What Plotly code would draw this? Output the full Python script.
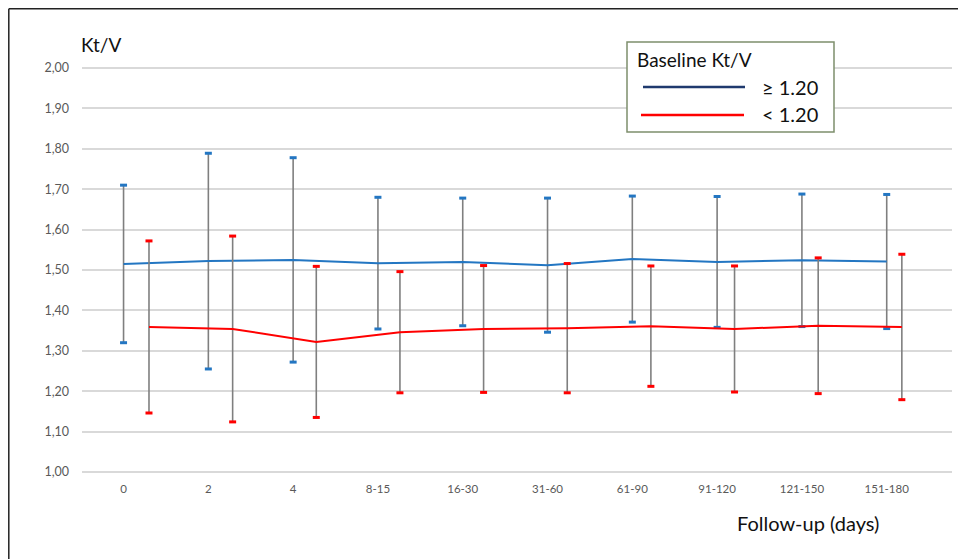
import plotly.graph_objects as go

categories = ["0", "2", "4", "8-15", "16-30", "31-60", "61-90", "91-120", "121-150", "151-180"]
high_mean = [1.515, 1.522, 1.525, 1.517, 1.520, 1.512, 1.527, 1.520, 1.524, 1.521]
high_sd = [0.195, 0.267, 0.253, 0.163, 0.158, 0.166, 0.156, 0.162, 0.164, 0.166]
low_mean = [1.359, 1.354, 1.322, 1.346, 1.354, 1.356, 1.361, 1.354, 1.362, 1.359]
low_sd = [0.213, 0.230, 0.187, 0.150, 0.157, 0.160, 0.149, 0.156, 0.168, 0.180]
y_tick_values = [1.0, 1.1, 1.2, 1.3, 1.4, 1.5, 1.6, 1.7, 1.8, 1.9, 2.0]
y_tick_labels = ["1,00", "1,10", "1,20", "1,30", "1,40", "1,50", "1,60", "1,70", "1,80", "1,90", "2,00"]
legend_title = "Baseline Kt/V"
legend_labels = ["≥ 1.20", "< 1.20"]

# page body has an 8px margin: figure is drawn offset by (8, 8)
OFF = 8
W, H = 966 - OFF, 559 - OFF
PL, PR, PT, PB = 82, 952, 66, 474   # plot area in page pixels
ML, MT = PL - OFF, PT - OFF
MR, MB = W - (PR - OFF), H - (PB - OFF)
PW, PH = PR - PL, PB - PT

def px(x):
    return (x - PL) / PW

def py(y):
    return (PB - y) / PH

n = len(categories)
x_high = list(range(n))
x_low = [i + 0.30 - 0.0135 * i for i in range(n)]

BLUE = "#2376C2"
RED = "#FF0000"
GRAY = "#7F7F7F"
FONT = "Lato, 'Open Sans', sans-serif"

fig = go.Figure()

for xs, m, sd, col in [(x_high, high_mean, high_sd, BLUE), (x_low, low_mean, low_sd, RED)]:
    fig.add_trace(go.Scatter(
        x=xs, y=m, mode="markers", marker=dict(size=1, opacity=0),
        error_y=dict(type="data", array=sd, visible=True, color=GRAY, thickness=1.6, width=0),
        showlegend=False, hoverinfo="skip"))
    caps_y = [a + b for a, b in zip(m, sd)] + [a - b for a, b in zip(m, sd)]
    fig.add_trace(go.Scatter(
        x=xs + xs, y=caps_y, mode="markers",
        marker=dict(symbol="line-ew-open", size=5, color=col, line=dict(color=col, width=3)),
        showlegend=False, hoverinfo="skip"))
    fig.add_trace(go.Scatter(
        x=xs, y=m, mode="lines", line=dict(color=col, width=2),
        showlegend=False))

shapes = [
    # outer frame (top and left only)
    dict(type="line", xref="paper", yref="paper", x0=px(OFF + 0.8), x1=px(966), y0=py(OFF + 0.8), y1=py(OFF + 0.8),
         line=dict(color="#222222", width=1.5)),
    dict(type="line", xref="paper", yref="paper", x0=px(OFF + 0.8), x1=px(OFF + 0.8), y0=py(OFF + 0.8), y1=py(559),
         line=dict(color="#222222", width=1.5)),
    # legend box
    dict(type="rect", xref="paper", yref="paper", x0=px(627), x1=px(834), y0=py(42), y1=py(132),
         line=dict(color="#7E8F6C", width=1.5), fillcolor="white"),
    dict(type="line", xref="paper", yref="paper", x0=px(643), x1=px(745), y0=py(87), y1=py(87),
         line=dict(color="#1F3A6E", width=2.5)),
    dict(type="line", xref="paper", yref="paper", x0=px(641), x1=px(744), y0=py(115), y1=py(115),
         line=dict(color=RED, width=2.5)),
]

annotations = [
    dict(text="Kt/V", xref="paper", yref="paper", x=px(79), y=py(45), xanchor="left", yanchor="middle",
         showarrow=False, font=dict(family=FONT, size=19, color="#111111")),
    dict(text="Follow-up (days)", xref="paper", yref="paper", x=px(881), y=py(523), xanchor="right",
         yanchor="middle", showarrow=False, font=dict(family=FONT, size=20, color="#111111")),
    dict(text=legend_title, xref="paper", yref="paper", x=px(635), y=py(59), xanchor="left", yanchor="middle",
         showarrow=False, font=dict(family=FONT, size=19, color="#111111")),
    dict(text=legend_labels[0], xref="paper", yref="paper", x=px(820), y=py(87), xanchor="right",
         yanchor="middle", showarrow=False, font=dict(family=FONT, size=20, color="#111111")),
    dict(text=legend_labels[1], xref="paper", yref="paper", x=px(820), y=py(114), xanchor="right",
         yanchor="middle", showarrow=False, font=dict(family=FONT, size=20, color="#111111")),
]

fig.update_layout(
    width=W, height=H,
    margin=dict(l=ML, r=MR, t=MT, b=MB),
    paper_bgcolor="white", plot_bgcolor="white",
    showlegend=False,
    shapes=shapes, annotations=annotations,
    xaxis=dict(
        range=[-0.49, 9.77], tickmode="array", tickvals=list(range(n)), ticktext=categories,
        showgrid=False, zeroline=False, showline=False, ticks="",
        tickfont=dict(family=FONT, size=11.5, color="#595959"), ticklabelstandoff=6,
    ),
    yaxis=dict(
        range=[0.995, 2.005], tickmode="array", tickvals=y_tick_values, ticktext=y_tick_labels,
        showgrid=True, gridcolor="#D9D9D9", gridwidth=1.5, zeroline=False, showline=False, ticks="",
        tickfont=dict(family=FONT, size=12.5, color="#595959"), ticklabelstandoff=12,
    ),
)

fig.write_html("out.html")
